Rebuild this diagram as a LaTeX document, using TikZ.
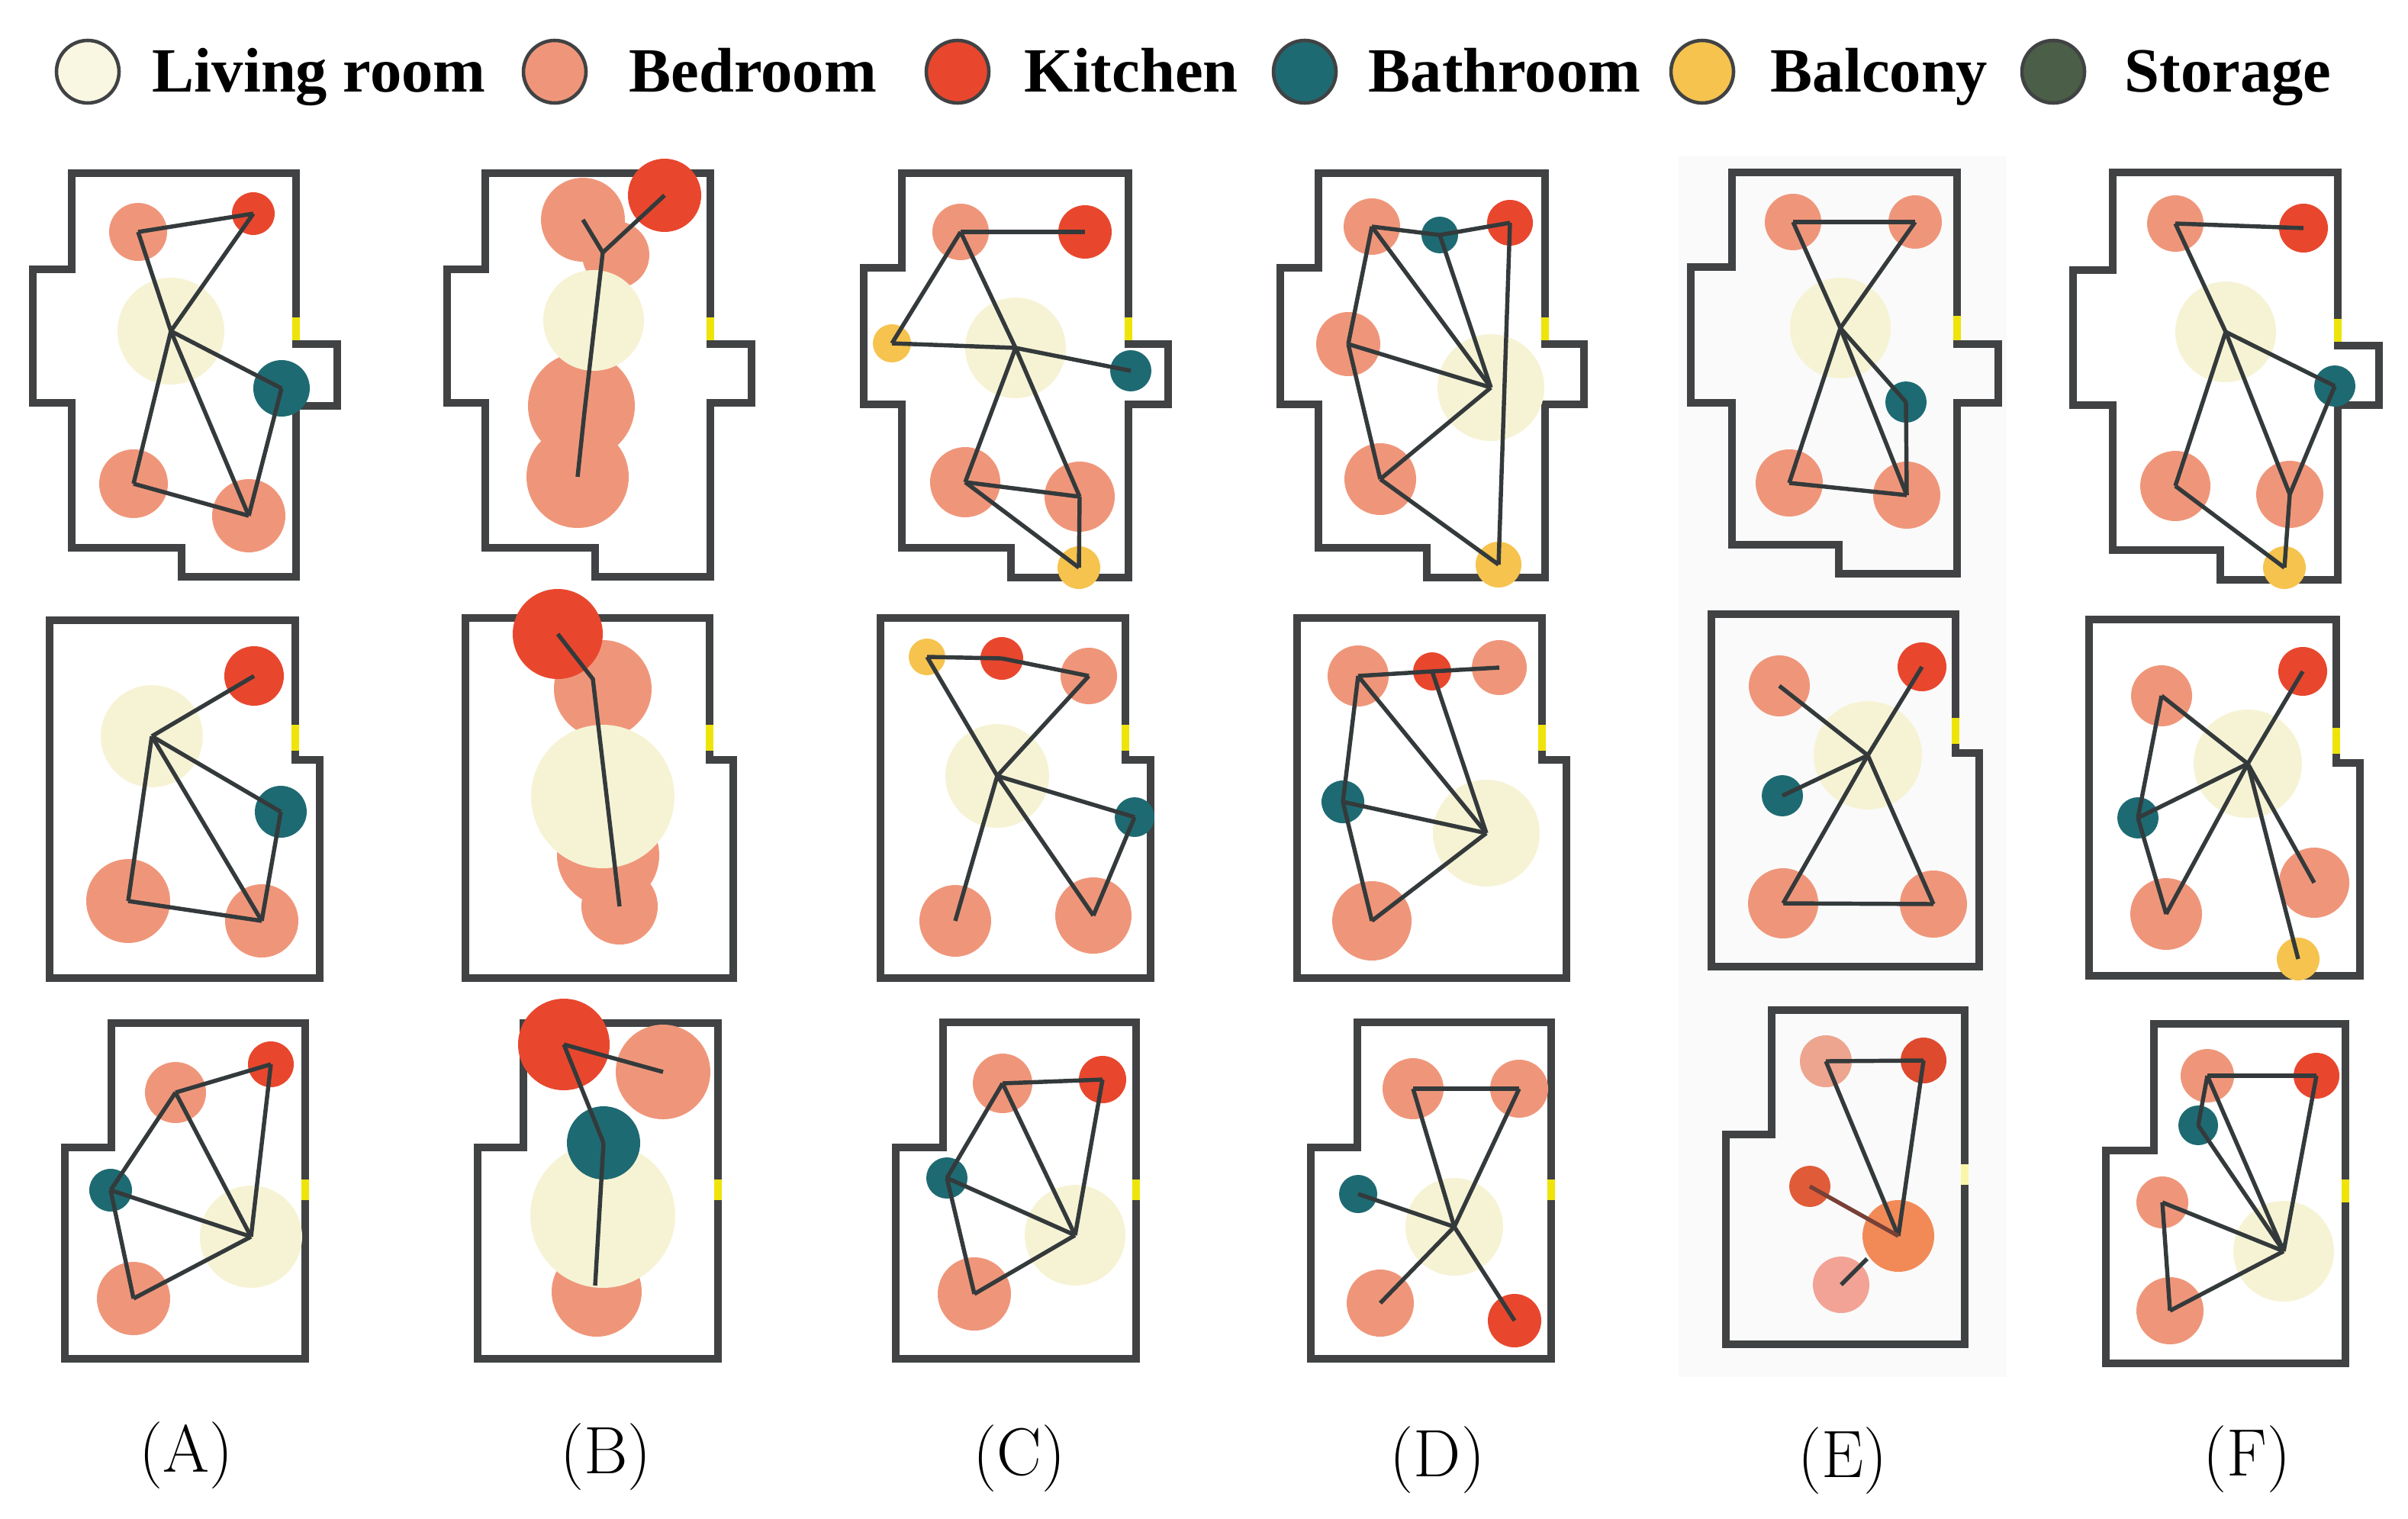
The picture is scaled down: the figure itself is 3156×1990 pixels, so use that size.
\documentclass[tikz,border=0pt]{standalone}
\usepackage{fontspec}
\newfontfamily\legendfont{Liberation Serif}
\usepackage{tikz}
\definecolor{LivingFill}{HTML}{F6F3D5}
\definecolor{BedroomFill}{HTML}{EF967A}
\definecolor{KitchenFill}{HTML}{E8472E}
\definecolor{BathFill}{HTML}{1E6A72}
\definecolor{BalconyFill}{HTML}{F6C34E}
\definecolor{StorageFill}{HTML}{4B5E47}
\definecolor{WallGray}{HTML}{404243}
\definecolor{LinkGray}{HTML}{343A3B}
\definecolor{DoorYellow}{HTML}{EEE40A}
\definecolor{PaleRose}{HTML}{EDA58F}
\definecolor{DeepRed}{HTML}{DD4A2E}
\definecolor{RustRed}{HTML}{E05C38}
\definecolor{SoftOrange}{HTML}{F28A58}
\definecolor{LightRose}{HTML}{F2A396}
\tikzstyle{bubble} = [circle, inner sep=0, draw=none]
\tikzstyle{living} = [bubble, fill=LivingFill]
\tikzstyle{bedroom} = [bubble, fill=BedroomFill]
\tikzstyle{kitchen} = [bubble, fill=KitchenFill]
\tikzstyle{bathroom} = [bubble, fill=BathFill]
\tikzstyle{balcony} = [bubble, fill=BalconyFill]
\tikzstyle{wall} = [draw=WallGray, line width=2.7pt]
\tikzstyle{door} = [draw=DoorYellow, line width=2.7pt]
\tikzstyle{link} = [draw=LinkGray, line width=1.55pt]
\tikzstyle{legendkey} = [circle, inner sep=0, draw=WallGray, line width=1.3pt, minimum size=8.2mm]
\tikzstyle{keytext} = [inner sep=0, anchor=base west, font=\legendfont\bfseries\fontsize{23.5pt}{28pt}\selectfont]
\tikzstyle{panellabel} = [inner sep=0, font=\fontsize{25pt}{30pt}\selectfont]

\begin{document}
\begin{tikzpicture}[x=0.1mm, y=-0.1mm]
	\useasboundingbox (0, 0) rectangle (3156, 1990);
	\fill [black!2] (2200, 205) rectangle (2630, 1805);

	% legend
	\node (KeyLiving) [legendkey, fill=LivingFill!70!white] at (115, 94) {};
	\node (KeyLivingText) [keytext] at (199, 120) {Living room};
	\node (KeyBedroom) [legendkey, fill=BedroomFill] at (727, 94) {};
	\node (KeyBedroomText) [keytext] at (824, 120) {Bedroom};
	\node (KeyKitchen) [legendkey, fill=KitchenFill] at (1255, 94) {};
	\node (KeyKitchenText) [keytext] at (1342, 120) {Kitchen};
	\node (KeyBath) [legendkey, fill=BathFill] at (1710, 94) {};
	\node (KeyBathText) [keytext] at (1793, 120) {Bathroom};
	\node (KeyBalcony) [legendkey, fill=BalconyFill] at (2231, 94) {};
	\node (KeyBalconyText) [keytext] at (2320, 120) {Balcony};
	\node (KeyStorage) [legendkey, fill=StorageFill] at (2691, 94) {};
	\node (KeyStorageText) [keytext] at (2784, 120) {Storage};

	% walls and doors
	\draw [wall] (94, 227) -- (388, 227) -- (388, 451) -- (442, 451) -- (442, 532) -- (388, 532) -- (388, 756) -- (238, 756) -- (238, 718) -- (94, 718) -- (94, 528) -- (43, 528) -- (43, 353) -- (94, 353) -- cycle;
	\draw [door] (388, 416) -- (388, 446);
	\draw [wall] (636, 227) -- (931, 227) -- (931, 451) -- (985, 451) -- (985, 528) -- (931, 528) -- (931, 756) -- (780, 756) -- (780, 718) -- (636, 718) -- (636, 528) -- (586, 528) -- (586, 353) -- (636, 353) -- cycle;
	\draw [door] (931, 416) -- (931, 446);
	\draw [wall] (1182, 227) -- (1479, 227) -- (1479, 451) -- (1531, 451) -- (1531, 530) -- (1479, 530) -- (1479, 757) -- (1325, 757) -- (1325, 718) -- (1182, 718) -- (1182, 530) -- (1132, 530) -- (1132, 351) -- (1182, 351) -- cycle;
	\draw [door] (1479, 416) -- (1479, 446);
	\draw [wall] (1728, 227) -- (2025, 227) -- (2025, 451) -- (2076, 451) -- (2076, 530) -- (2025, 530) -- (2025, 757) -- (1870, 757) -- (1870, 718) -- (1728, 718) -- (1728, 530) -- (1678, 530) -- (1678, 351) -- (1728, 351) -- cycle;
	\draw [door] (2025, 416) -- (2025, 446);
	\draw [wall] (2270, 226) -- (2565, 226) -- (2565, 451) -- (2619, 451) -- (2619, 528) -- (2565, 528) -- (2565, 752) -- (2410, 752) -- (2410, 714) -- (2270, 714) -- (2270, 528) -- (2216, 528) -- (2216, 350) -- (2270, 350) -- cycle;
	\draw [door] (2565, 414) -- (2565, 446);
	\draw [wall] (2769, 226) -- (3064, 226) -- (3064, 453) -- (3118, 453) -- (3118, 531) -- (3064, 531) -- (3064, 760) -- (2910, 760) -- (2910, 721) -- (2769, 721) -- (2769, 531) -- (2717, 531) -- (2717, 354) -- (2769, 354) -- cycle;
	\draw [door] (3064, 418) -- (3064, 448);

	\draw [wall] (65, 813) -- (387, 813) -- (387, 996) -- (419, 996) -- (419, 1282) -- (65, 1282) -- cycle;
	\draw [door] (387, 950) -- (387, 984);
	\draw [wall] (610, 810) -- (930, 810) -- (930, 996) -- (961, 996) -- (961, 1282) -- (610, 1282) -- cycle;
	\draw [door] (930, 950) -- (930, 984);
	\draw [wall] (1154, 810) -- (1475, 810) -- (1475, 996) -- (1508, 996) -- (1508, 1282) -- (1154, 1282) -- cycle;
	\draw [door] (1475, 950) -- (1475, 984);
	\draw [wall] (1700, 810) -- (2021, 810) -- (2021, 996) -- (2053, 996) -- (2053, 1282) -- (1700, 1282) -- cycle;
	\draw [door] (2021, 950) -- (2021, 984);
	\draw [wall] (2243, 805) -- (2563, 805) -- (2563, 987) -- (2594, 987) -- (2594, 1267) -- (2243, 1267) -- cycle;
	\draw [door] (2563, 941) -- (2563, 975);
	\draw [wall] (2738, 812) -- (3062, 812) -- (3062, 1000) -- (3093, 1000) -- (3093, 1279) -- (2738, 1279) -- cycle;
	\draw [door] (3062, 954) -- (3062, 988);

	\draw [wall] (146, 1341) -- (400, 1341) -- (400, 1781) -- (85, 1781) -- (85, 1504) -- (146, 1504) -- cycle;
	\draw [door] (400, 1546) -- (400, 1573);
	\draw [wall] (686, 1341) -- (941, 1341) -- (941, 1781) -- (626, 1781) -- (626, 1504) -- (686, 1504) -- cycle;
	\draw [door] (941, 1546) -- (941, 1573);
	\draw [wall] (1236, 1340) -- (1489, 1340) -- (1489, 1781) -- (1174, 1781) -- (1174, 1504) -- (1236, 1504) -- cycle;
	\draw [door] (1489, 1546) -- (1489, 1573);
	\draw [wall] (1779, 1340) -- (2033, 1340) -- (2033, 1781) -- (1718, 1781) -- (1718, 1504) -- (1779, 1504) -- cycle;
	\draw [door] (2033, 1546) -- (2033, 1573);
	\draw [wall] (2322, 1324) -- (2575, 1324) -- (2575, 1762) -- (2262, 1762) -- (2262, 1487) -- (2322, 1487) -- cycle;
	\draw [door, draw=DoorYellow!35!white] (2575, 1526) -- (2575, 1553);
	\draw [wall] (2823, 1342) -- (3074, 1342) -- (3074, 1787) -- (2760, 1787) -- (2760, 1508) -- (2823, 1508) -- cycle;
	\draw [door] (3074, 1546) -- (3074, 1576);

	% column A, first row
	\node (A1Living) [living, minimum size=14mm] at (224, 434) {};
	\node (A1Bed1) [bedroom, minimum size=7.6mm] at (181, 304) {};
	\node (A1Kitchen) [kitchen, minimum size=5.6mm] at (332, 280) {};
	\node (A1Bath) [bathroom, minimum size=7.4mm] at (369, 509) {};
	\node (A1Bed2) [bedroom, minimum size=9mm] at (175, 634) {};
	\node (A1Bed3) [bedroom, minimum size=9.6mm] at (326, 676) {};
	\draw [link] (A1Bed1.center) -- (A1Kitchen.center);
	\draw [link] (A1Bed1.center) -- (A1Living.center);
	\draw [link] (A1Kitchen.center) -- (A1Living.center);
	\draw [link] (A1Living.center) -- (A1Bath.center);
	\draw [link] (A1Living.center) -- (A1Bed2.center);
	\draw [link] (A1Living.center) -- (A1Bed3.center);
	\draw [link] (A1Bath.center) -- (A1Bed3.center);
	\draw [link] (A1Bed2.center) -- (A1Bed3.center);

	% column A, second row
	\node (A2Living) [living, minimum size=13.4mm] at (199, 965) {};
	\node (A2Kitchen) [kitchen, minimum size=7.8mm] at (333, 886) {};
	\node (A2Bath) [bathroom, minimum size=6.8mm] at (368, 1064) {};
	\node (A2Bed1) [bedroom, minimum size=11mm] at (168, 1181) {};
	\node (A2Bed2) [bedroom, minimum size=9.6mm] at (343, 1207) {};
	\draw [link] (A2Living.center) -- (A2Kitchen.center);
	\draw [link] (A2Living.center) -- (A2Bath.center);
	\draw [link] (A2Living.center) -- (A2Bed1.center);
	\draw [link] (A2Living.center) -- (A2Bed2.center);
	\draw [link] (A2Bath.center) -- (A2Bed2.center);
	\draw [link] (A2Bed1.center) -- (A2Bed2.center);

	% column A, third row
	\node (A3Bed1) [bedroom, minimum size=8mm] at (230, 1432) {};
	\node (A3Kitchen) [kitchen, minimum size=6mm] at (355, 1395) {};
	\node (A3Bath) [bathroom, minimum size=5.6mm] at (145, 1560) {};
	\node (A3Living) [living, minimum size=13.4mm] at (329, 1621) {};
	\node (A3Bed2) [bedroom, minimum size=9.6mm] at (175, 1702) {};
	\draw [link] (A3Bed1.center) -- (A3Kitchen.center);
	\draw [link] (A3Bed1.center) -- (A3Bath.center);
	\draw [link] (A3Bed1.center) -- (A3Living.center);
	\draw [link] (A3Kitchen.center) -- (A3Living.center);
	\draw [link] (A3Bath.center) -- (A3Living.center);
	\draw [link] (A3Bath.center) -- (A3Bed2.center);
	\draw [link] (A3Bed2.center) -- (A3Living.center);

	% column B, first row
	\node (B1Bed1) [bedroom, minimum size=11mm] at (764, 288) {};
	\node (B1Bed2) [bedroom, minimum size=8.8mm] at (807, 334) {};
	\node (B1Bed3) [bedroom, minimum size=14mm] at (762, 532) {};
	\node (B1Bed4) [bedroom, minimum size=13.4mm] at (757, 625) {};
	\node (B1Kitchen) [kitchen, minimum size=9.6mm] at (871, 256) {};
	\node (B1Living) [living, minimum size=13.2mm] at (778, 420) {};
	\coordinate (B1Joint) at (790, 331);
	\coordinate (B1Bend) at (766, 540);
	\draw [link] (B1Bed1.center) -- (B1Joint);
	\draw [link] (B1Kitchen.center) -- (B1Joint);
	\draw [link] (B1Joint) -- (B1Bend) -- (B1Bed4.center);

	% column B, second row
	\node (B2Bed1) [bedroom, minimum size=12.8mm] at (790, 903) {};
	\node (B2Bed2) [bedroom, minimum size=13.4mm] at (797, 1121) {};
	\node (B2Bed3) [bedroom, minimum size=10mm] at (812, 1188) {};
	\node (B2Living) [living, minimum size=18.8mm] at (790, 1044) {};
	\node (B2Kitchen) [kitchen, minimum size=11.8mm] at (731, 831) {};
	\coordinate (B2Bend) at (777, 890);
	\draw [link] (B2Kitchen.center) -- (B2Bend) -- (B2Bed3.center);

	% column B, third row
	\node (B3Bed2) [bedroom, minimum size=11.8mm] at (782, 1693) {};
	\node (B3Living) [living, minimum size=19mm] at (790, 1593) {};
	\node (B3Bath) [bathroom, minimum size=9.6mm] at (791, 1498) {};
	\node (B3Bed1) [bedroom, minimum size=12.4mm] at (869, 1405) {};
	\node (B3Kitchen) [kitchen, minimum size=12mm] at (739, 1369) {};
	\coordinate (B3End) at (780, 1685);
	\draw [link] (B3Kitchen.center) -- (B3Bed1.center);
	\draw [link] (B3Kitchen.center) -- (B3Bath.center);
	\draw [link] (B3Bath.center) -- (B3End);

	% column C, first row
	\node (C1Living) [living, minimum size=13.2mm] at (1331, 456) {};
	\node (C1Bed1) [bedroom, minimum size=7.4mm] at (1259, 304) {};
	\node (C1Kitchen) [kitchen, minimum size=7mm] at (1422, 304) {};
	\node (C1Balcony1) [balcony, minimum size=5mm] at (1169, 450) {};
	\node (C1Bath) [bathroom, minimum size=5.4mm] at (1482, 486) {};
	\node (C1Bed2) [bedroom, minimum size=9.2mm] at (1265, 632) {};
	\node (C1Bed3) [bedroom, minimum size=9.2mm] at (1415, 651) {};
	\node (C1Balcony2) [balcony, minimum size=5.6mm] at (1414, 744) {};
	\draw [link] (C1Bed1.center) -- (C1Kitchen.center);
	\draw [link] (C1Bed1.center) -- (C1Balcony1.center);
	\draw [link] (C1Bed1.center) -- (C1Living.center);
	\draw [link] (C1Balcony1.center) -- (C1Living.center);
	\draw [link] (C1Living.center) -- (C1Bath.center);
	\draw [link] (C1Living.center) -- (C1Bed2.center);
	\draw [link] (C1Living.center) -- (C1Bed3.center);
	\draw [link] (C1Bed2.center) -- (C1Bed3.center);
	\draw [link] (C1Bed2.center) -- (C1Balcony2.center);
	\draw [link] (C1Bed3.center) -- (C1Balcony2.center);

	% column C, second row
	\node (C2Living) [living, minimum size=13.6mm] at (1307, 1017) {};
	\node (C2Balcony) [balcony, minimum size=4.8mm] at (1215, 861) {};
	\node (C2Kitchen) [kitchen, minimum size=5.6mm] at (1313, 863) {};
	\node (C2Bed1) [bedroom, minimum size=7.4mm] at (1427, 886) {};
	\node (C2Bath) [bathroom, minimum size=5.2mm] at (1487, 1071) {};
	\node (C2Bed2) [bedroom, minimum size=9.4mm] at (1252, 1207) {};
	\node (C2Bed3) [bedroom, minimum size=10mm] at (1433, 1200) {};
	\draw [link] (C2Balcony.center) -- (C2Kitchen.center);
	\draw [link] (C2Kitchen.center) -- (C2Bed1.center);
	\draw [link] (C2Balcony.center) -- (C2Living.center);
	\draw [link] (C2Bed1.center) -- (C2Living.center);
	\draw [link] (C2Living.center) -- (C2Bath.center);
	\draw [link] (C2Living.center) -- (C2Bed2.center);
	\draw [link] (C2Living.center) -- (C2Bed3.center);
	\draw [link] (C2Bath.center) -- (C2Bed3.center);

	% column C, third row
	\node (C3Living) [living, minimum size=13.2mm] at (1409, 1619) {};
	\node (C3Bed1) [bedroom, minimum size=7.8mm] at (1314, 1420) {};
	\node (C3Kitchen) [kitchen, minimum size=6.2mm] at (1445, 1415) {};
	\node (C3Bath) [bathroom, minimum size=5.4mm] at (1241, 1544) {};
	\node (C3Bed2) [bedroom, minimum size=9.6mm] at (1277, 1696) {};
	\draw [link] (C3Bed1.center) -- (C3Kitchen.center);
	\draw [link] (C3Bed1.center) -- (C3Bath.center);
	\draw [link] (C3Bed1.center) -- (C3Living.center);
	\draw [link] (C3Kitchen.center) -- (C3Living.center);
	\draw [link] (C3Bath.center) -- (C3Living.center);
	\draw [link] (C3Bath.center) -- (C3Bed2.center);
	\draw [link] (C3Bed2.center) -- (C3Living.center);

	% column D, first row
	\node (D1Living) [living, minimum size=14mm] at (1954, 508) {};
	\node (D1Bed1) [bedroom, minimum size=7.4mm] at (1798, 297) {};
	\node (D1Bath) [bathroom, minimum size=4.8mm] at (1887, 308) {};
	\node (D1Kitchen) [kitchen, minimum size=6mm] at (1979, 292) {};
	\node (D1Bed2) [bedroom, minimum size=8.4mm] at (1767, 451) {};
	\node (D1Bed3) [bedroom, minimum size=9.4mm] at (1809, 628) {};
	\node (D1Balcony) [balcony, minimum size=6mm] at (1964, 740) {};
	\draw [link] (D1Bed1.center) -- (D1Bath.center);
	\draw [link] (D1Bath.center) -- (D1Kitchen.center);
	\draw [link] (D1Bed1.center) -- (D1Bed2.center);
	\draw [link] (D1Bed1.center) -- (D1Living.center);
	\draw [link] (D1Bath.center) -- (D1Living.center);
	\draw [link] (D1Kitchen.center) -- (D1Balcony.center);
	\draw [link] (D1Bed2.center) -- (D1Living.center);
	\draw [link] (D1Bed2.center) -- (D1Bed3.center);
	\draw [link] (D1Bed3.center) -- (D1Living.center);
	\draw [link] (D1Bed3.center) -- (D1Balcony.center);

	% column D, second row
	\node (D2Living) [living, minimum size=14mm] at (1948, 1092) {};
	\node (D2Bed1) [bedroom, minimum size=8mm] at (1780, 886) {};
	\node (D2Kitchen) [kitchen, minimum size=5mm] at (1877, 880) {};
	\node (D2Bed2) [bedroom, minimum size=7.2mm] at (1965, 875) {};
	\node (D2Bath) [bathroom, minimum size=5.6mm] at (1760, 1051) {};
	\node (D2Bed3) [bedroom, minimum size=10.4mm] at (1798, 1207) {};
	\draw [link] (D2Bed1.center) -- (D2Kitchen.center);
	\draw [link] (D2Kitchen.center) -- (D2Bed2.center);
	\draw [link] (D2Bed1.center) -- (D2Bath.center);
	\draw [link] (D2Bed1.center) -- (D2Living.center);
	\draw [link] (D2Kitchen.center) -- (D2Living.center);
	\draw [link] (D2Bath.center) -- (D2Living.center);
	\draw [link] (D2Bath.center) -- (D2Bed3.center);
	\draw [link] (D2Bed3.center) -- (D2Living.center);

	% column D, third row
	\node (D3Living) [living, minimum size=12.8mm] at (1906, 1608) {};
	\node (D3Bed1) [bedroom, minimum size=8mm] at (1852, 1427) {};
	\node (D3Bed2) [bedroom, minimum size=7.6mm] at (1991, 1427) {};
	\node (D3Bath) [bathroom, minimum size=5mm] at (1780, 1565) {};
	\node (D3Bed3) [bedroom, minimum size=8.8mm] at (1809, 1708) {};
	\node (D3Kitchen) [kitchen, minimum size=7mm] at (1985, 1731) {};
	\draw [link] (D3Bed1.center) -- (D3Bed2.center);
	\draw [link] (D3Bed1.center) -- (D3Living.center);
	\draw [link] (D3Bed2.center) -- (D3Living.center);
	\draw [link] (D3Bath.center) -- (D3Living.center);
	\draw [link] (D3Living.center) -- (D3Bed3.center);
	\draw [link] (D3Living.center) -- (D3Kitchen.center);

	% column E, first row
	\node (E1Living) [living, minimum size=13.2mm] at (2412, 430) {};
	\node (E1Bed1) [bedroom, minimum size=7.4mm] at (2350, 291) {};
	\node (E1Bed2) [bedroom, minimum size=7mm] at (2510, 291) {};
	\node (E1Bath) [bathroom, minimum size=5.4mm] at (2498, 527) {};
	\node (E1Bed3) [bedroom, minimum size=8.8mm] at (2345, 633) {};
	\node (E1Bed4) [bedroom, minimum size=8.8mm] at (2499, 649) {};
	\draw [link] (E1Bed1.center) -- (E1Bed2.center);
	\draw [link] (E1Bed1.center) -- (E1Living.center);
	\draw [link] (E1Living.center) -- (E1Bed4.center);
	\draw [link] (E1Bed2.center) -- (E1Living.center);
	\draw [link] (E1Living.center) -- (E1Bed3.center);
	\draw [link] (E1Living.center) -- (E1Bath.center);
	\draw [link] (E1Bath.center) -- (E1Bed4.center);
	\draw [link] (E1Bed3.center) -- (E1Bed4.center);

	% column E, second row
	\node (E2Living) [living, minimum size=14.2mm] at (2448, 990) {};
	\node (E2Bed1) [bedroom, minimum size=8mm] at (2332, 899) {};
	\node (E2Kitchen) [kitchen, minimum size=6.4mm] at (2519, 874) {};
	\node (E2Bath) [bathroom, minimum size=5.4mm] at (2336, 1043) {};
	\node (E2Bed2) [bedroom, minimum size=9.2mm] at (2337, 1184) {};
	\node (E2Bed3) [bedroom, minimum size=8.8mm] at (2534, 1185) {};
	\draw [link] (E2Bed1.center) -- (E2Living.center);
	\draw [link] (E2Living.center) -- (E2Bed3.center);
	\draw [link] (E2Kitchen.center) -- (E2Living.center);
	\draw [link] (E2Living.center) -- (E2Bed2.center);
	\draw [link] (E2Bath.center) -- (E2Living.center);
	\draw [link] (E2Bed2.center) -- (E2Bed3.center);

	% column E, third row
	\node (E3Bed1) [bubble, fill=PaleRose, minimum size=6.8mm] at (2393, 1391) {};
	\node (E3Kitchen1) [bubble, fill=DeepRed, minimum size=6mm] at (2521, 1390) {};
	\node (E3Kitchen2) [bubble, fill=RustRed, minimum size=5.4mm] at (2372, 1555) {};
	\node (E3Bed3) [bubble, fill=LightRose, minimum size=7.4mm] at (2413, 1684) {};
	\node (E3Bed2) [bubble, fill=SoftOrange, minimum size=9.4mm] at (2488, 1620) {};
	\coordinate (E3Stub) at (2447, 1650);
	\draw [link] (E3Bed1.center) -- (E3Kitchen1.center);
	\draw [link] (E3Bed1.center) -- (E3Bed2.center);
	\draw [link] (E3Kitchen1.center) -- (E3Bed2.center);
	\draw [link, draw=LinkGray!60!DeepRed] (E3Kitchen2.center) -- (E3Bed2.center);
	\draw [link] (E3Bed3.center) -- (E3Stub);

	% column F, first row
	\node (F1Living) [living, minimum size=13.2mm] at (2917, 435) {};
	\node (F1Bed1) [bedroom, minimum size=7.4mm] at (2851, 293) {};
	\node (F1Kitchen) [kitchen, minimum size=6.4mm] at (3019, 299) {};
	\node (F1Bath) [bathroom, minimum size=5.4mm] at (3060, 506) {};
	\node (F1Bed2) [bedroom, minimum size=9.2mm] at (2851, 637) {};
	\node (F1Bed3) [bedroom, minimum size=8.8mm] at (3001, 648) {};
	\node (F1Balcony) [balcony, minimum size=5.6mm] at (2994, 744) {};
	\draw [link] (F1Bed1.center) -- (F1Kitchen.center);
	\draw [link] (F1Bed1.center) -- (F1Living.center);
	\draw [link] (F1Living.center) -- (F1Bath.center);
	\draw [link] (F1Living.center) -- (F1Bed2.center);
	\draw [link] (F1Living.center) -- (F1Bed3.center);
	\draw [link] (F1Bath.center) -- (F1Bed3.center);
	\draw [link] (F1Bed3.center) -- (F1Balcony.center);
	\draw [link] (F1Bed2.center) -- (F1Balcony.center);

	% column F, second row
	\node (F2Living) [living, minimum size=14.2mm] at (2946, 1001) {};
	\node (F2Bed1) [bedroom, minimum size=8mm] at (2833, 912) {};
	\node (F2Kitchen) [kitchen, minimum size=6.4mm] at (3018, 880) {};
	\node (F2Bath) [bathroom, minimum size=5.4mm] at (2802, 1072) {};
	\node (F2Bed2) [bedroom, minimum size=9.2mm] at (3033, 1157) {};
	\node (F2Bed3) [bedroom, minimum size=9.4mm] at (2839, 1198) {};
	\node (F2Balcony) [balcony, minimum size=5.6mm] at (3012, 1257) {};
	\draw [link] (F2Bed1.center) -- (F2Living.center);
	\draw [link] (F2Kitchen.center) -- (F2Living.center);
	\draw [link] (F2Living.center) -- (F2Bed3.center);
	\draw [link] (F2Bed1.center) -- (F2Bath.center);
	\draw [link] (F2Bath.center) -- (F2Living.center);
	\draw [link] (F2Bath.center) -- (F2Bed3.center);
	\draw [link] (F2Living.center) -- (F2Bed2.center);
	\draw [link] (F2Living.center) -- (F2Balcony.center);

	% column F, third row
	\node (F3Living) [living, minimum size=13.2mm] at (2993, 1640) {};
	\node (F3Bed1) [bedroom, minimum size=7mm] at (2893, 1410) {};
	\node (F3Kitchen) [kitchen, minimum size=6mm] at (3036, 1410) {};
	\node (F3Bath) [bathroom, minimum size=5.2mm] at (2881, 1475) {};
	\node (F3Bed2) [bedroom, minimum size=6.8mm] at (2834, 1576) {};
	\node (F3Bed3) [bedroom, minimum size=8.8mm] at (2844, 1718) {};
	\draw [link] (F3Bed1.center) -- (F3Kitchen.center);
	\draw [link] (F3Bed1.center) -- (F3Bath.center);
	\draw [link] (F3Bed1.center) -- (F3Living.center);
	\draw [link] (F3Kitchen.center) -- (F3Living.center);
	\draw [link] (F3Bath.center) -- (F3Living.center);
	\draw [link] (F3Bed2.center) -- (F3Living.center);
	\draw [link] (F3Bed2.center) -- (F3Bed3.center);
	\draw [link] (F3Bed3.center) -- (F3Living.center);

	% column labels
	\node (LabelA) [panellabel] at (244, 1908) {(A)};
	\node (LabelB) [panellabel] at (794, 1910) {(B)};
	\node (LabelC) [panellabel] at (1336, 1912) {(C)};
	\node (LabelD) [panellabel] at (1884, 1914) {(D)};
	\node (LabelE) [panellabel] at (2415, 1915) {(E)};
	\node (LabelF) [panellabel] at (2945, 1913) {(F)};
\end{tikzpicture}
\end{document}
